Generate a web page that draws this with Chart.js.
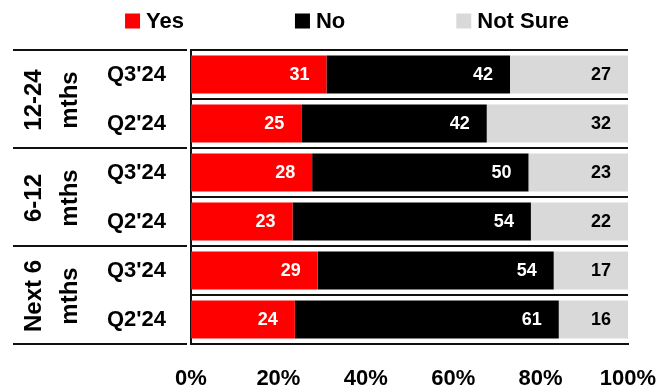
<!DOCTYPE html>
<html>
<head>
<meta charset="utf-8">
<script src="https://cdn.jsdelivr.net/npm/chart.js@4/dist/chart.umd.min.js"></script>
<style>
    html, body { margin: 0; padding: 0; background: #fff; }
    #wrap { width: 672px; height: 392px; position: relative; }
</style>
</head>
<body>
<div id="wrap"><canvas id="chart"></canvas></div>
<script>
// Survey answers per horizon / quarter (raw %, rows don't always add to 100)
const quarters = ["Q3'24", "Q2'24", "Q3'24", "Q2'24", "Q3'24", "Q2'24"];
const groupLabels = [['12-24', 'mths'], ['6-12', 'mths'], ['Next 6', 'mths']];
const yesValues = [31, 25, 28, 23, 29, 24];
const noValues = [42, 42, 50, 54, 54, 61];
const notSureValues = [27, 32, 23, 22, 17, 16];
const xTicks = [0, 20, 40, 60, 80, 100];

const seriesNames = ['Yes', 'No', 'Not Sure'];
const seriesColors = ['#ff0000', '#000000', '#d9d9d9'];
const labelColors = ['#ffffff', '#ffffff', '#000000'];
const rawSeries = [yesValues, noValues, notSureValues];

// 100% stacked: each row scaled to its own total
const rowTotals = quarters.map((q, i) => yesValues[i] + noValues[i] + notSureValues[i]);
const shareSeries = rawSeries.map(vals => vals.map((v, i) => v / rowTotals[i] * 100));

const FONT = "'Liberation Sans', Arial, sans-serif";

// legend row across the top (built-in one wraps with this much spacing)
const topLegend = {
    id: 'topLegend',
    afterDraw(chart) {
        const ctx = chart.ctx;
        const box = 15, textGap = 6, itemGap = 111, centerX = 347, midY = 21;
        ctx.save();
        ctx.font = 'bold 22px ' + FONT;
        ctx.textBaseline = 'middle';
        ctx.textAlign = 'left';
        const widths = seriesNames.map(n => box + textGap + ctx.measureText(n).width);
        const total = widths.reduce((a, b) => a + b, 0) + itemGap * (widths.length - 1);
        let x = centerX - total / 2;
        seriesNames.forEach((name, i) => {
            ctx.fillStyle = seriesColors[i];
            ctx.fillRect(x, midY - box / 2, box, box);
            ctx.fillStyle = '#000';
            ctx.fillText(name, x + box + textGap, midY + 1);
            x += widths[i] + itemGap;
        });
        ctx.restore();
    }
};

// value labels at the inner right end of each segment
const valueLabels = {
    id: 'valueLabels',
    afterDatasetsDraw(chart) {
        const ctx = chart.ctx;
        ctx.save();
        ctx.font = 'bold 18px ' + FONT;
        ctx.textAlign = 'right';
        ctx.textBaseline = 'middle';
        chart.data.datasets.forEach((ds, i) => {
            chart.getDatasetMeta(i).data.forEach((bar, j) => {
                ctx.fillStyle = labelColors[i];
                ctx.fillText(String(rawSeries[i][j]), bar.x - 17, bar.y + 1);
            });
        });
        ctx.restore();
    }
};

// horizon group labels + separators left of the quarter labels
const groupAxis = {
    id: 'groupAxis',
    afterDraw(chart) {
        const ctx = chart.ctx;
        const y = chart.scales.y;
        const band = y.getPixelForValue(1) - y.getPixelForValue(0);
        ctx.save();
        ctx.strokeStyle = '#111';
        ctx.lineWidth = 2;
        groupLabels.forEach((lines, g) => {
            const top = y.getPixelForValue(g * 2) - band / 2;
            const bottom = y.getPixelForValue(g * 2 + 1) + band / 2;
            ctx.beginPath();
            ctx.moveTo(13, top);
            ctx.lineTo(187, top);
            if (g === groupLabels.length - 1) {
                ctx.moveTo(13, bottom);
                ctx.lineTo(187, bottom);
            }
            ctx.stroke();

            const mid = (top + bottom) / 2 + 1;
            ctx.save();
            ctx.translate(0, mid);
            ctx.rotate(-Math.PI / 2);
            ctx.fillStyle = '#000';
            ctx.font = 'bold 24px ' + FONT;
            ctx.textAlign = 'center';
            ctx.textBaseline = 'middle';
            ctx.fillText(lines[0], 0, 34);
            ctx.fillText(lines[1], 0, 70);
            ctx.restore();
        });
        ctx.restore();
    }
};

const ctx = document.getElementById('chart').getContext('2d');
new Chart(ctx, {
    type: 'bar',
    data: {
        labels: quarters,
        datasets: seriesNames.map((name, i) => ({
            label: name,
            data: shareSeries[i],
            backgroundColor: seriesColors[i],
            borderWidth: 0,
            barPercentage: 0.78,
            categoryPercentage: 1
        }))
    },
    options: {
        indexAxis: 'y',
        responsive: true,
        maintainAspectRatio: false,
        animation: false,
        layout: {
            padding: { left: 22, right: 44, top: 50, bottom: 0 }
        },
        plugins: {
            legend: { display: false },
            tooltip: { enabled: false }
        },
        scales: {
            x: {
                stacked: true,
                min: 0,
                max: 100,
                afterBuildTicks: (scale) => {
                    scale.ticks = xTicks.map(v => ({ value: v }));
                },
                afterFit: (scale) => {
                    scale.height = 48;
                    scale.paddingLeft = 0;
                    scale.paddingRight = 0;
                },
                grid: { display: false, drawTicks: false },
                border: { display: true, color: '#111', width: 2 },
                ticks: {
                    color: '#000',
                    padding: 22,
                    maxRotation: 0,
                    font: { family: FONT, size: 22, weight: 'bold' },
                    callback: (v) => v + '%'
                }
            },
            y: {
                stacked: true,
                afterFit: (scale) => { scale.width = 169; },
                grid: {
                    display: true,
                    offset: true,
                    color: '#111',
                    lineWidth: 2,
                    drawTicks: false
                },
                border: { display: true, color: '#111', width: 2 },
                ticks: {
                    color: '#000',
                    padding: 25,
                    autoSkip: false,
                    font: { family: FONT, size: 22, weight: 'bold' }
                }
            }
        }
    },
    plugins: [valueLabels, groupAxis, topLegend]
});
</script>
</body>
</html>
